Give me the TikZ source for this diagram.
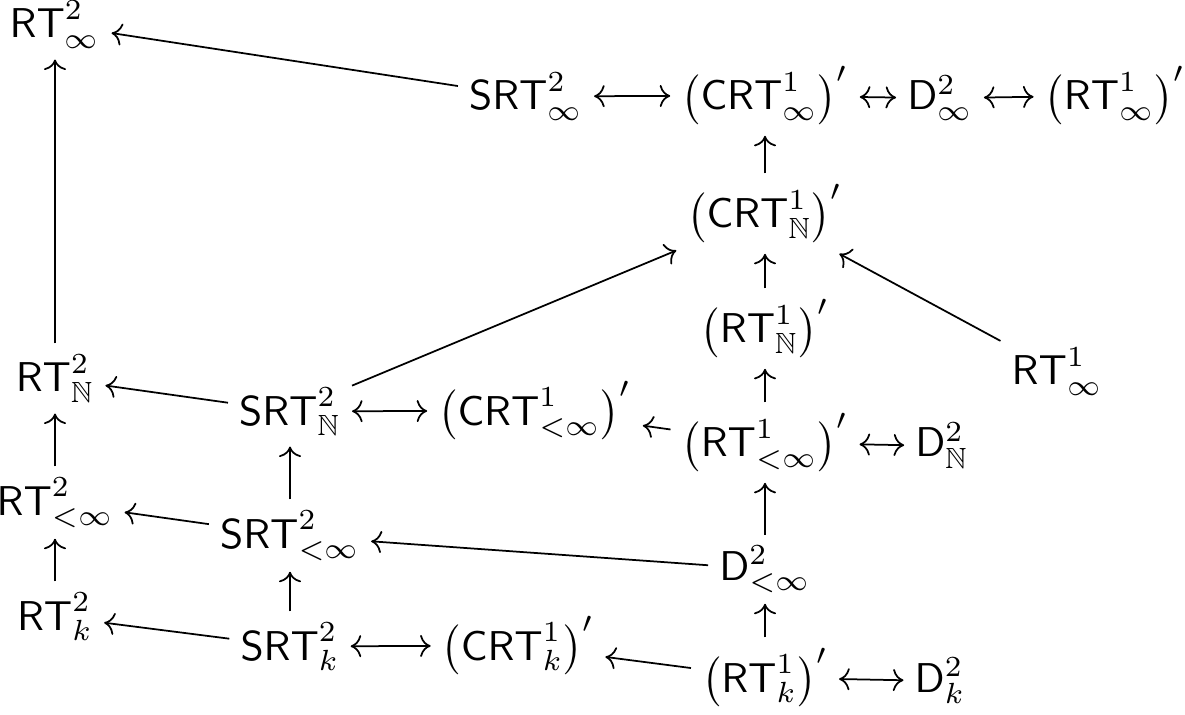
\documentclass[tikz,border=0pt]{standalone}
\usepackage{amsmath,amssymb}
\usetikzlibrary{arrows.meta}
\begin{document}
\begin{tikzpicture}[x=0.24pt,y=-0.24pt,
  obj/.style={anchor=base, inner sep=2.5pt},
  arr/.style={-{Computer Modern Rightarrow}, line width=0.42pt},
  biarr/.style={{Computer Modern Rightarrow}-{Computer Modern Rightarrow}, line width=0.42pt}]
\useasboundingbox (0,0) rectangle (1185,715);
% left column
\node[obj] (rt2inf) at (55,38) {$\mathsf{RT}^2_\infty$};
\node[obj] (rt2N) at (55,392) {$\mathsf{RT}^2_{\mathbb{N}}$};
\node[obj] (rt2lt) at (55,515) {$\mathsf{RT}^2_{<\infty}$};
\node[obj] (rt2k) at (55,630) {$\mathsf{RT}^2_k$};
% SRT column
\node[obj] (srt2N) at (290,425) {$\mathsf{SRT}^2_{\mathbb{N}}$};
\node[obj] (srt2lt) at (290,548) {$\mathsf{SRT}^2_{<\infty}$};
\node[obj] (srt2k) at (290,660) {$\mathsf{SRT}^2_k$};
% top row
\node[obj] (srt2inf) at (526,110) {$\mathsf{SRT}^2_\infty$};
\node[obj] (crt1inf) at (765,110) {$\left(\mathsf{CRT}^1_\infty\right)'$};
\node[obj] (d2inf) at (940,110) {$\mathsf{D}^2_\infty$};
\node[obj] (rt1infp) at (1115,110) {$\left(\mathsf{RT}^1_\infty\right)'$};
% middle column
\node[obj] (crt1N) at (765,228) {$\left(\mathsf{CRT}^1_{\mathbb{N}}\right)'$};
\node[obj] (rt1N) at (765,343) {$\left(\mathsf{RT}^1_{\mathbb{N}}\right)'$};
\node[obj] (rt1lt) at (765,457) {$\left(\mathsf{RT}^1_{<\infty}\right)'$};
\node[obj] (d2lt) at (765,580) {$\mathsf{D}^2_{<\infty}$};
\node[obj] (rt1k) at (765,692) {$\left(\mathsf{RT}^1_k\right)'$};
% others
\node[obj] (rt1inf) at (1057,385) {$\mathsf{RT}^1_\infty$};
\node[obj] (crt1lt) at (535,425) {$\left(\mathsf{CRT}^1_{<\infty}\right)'$};
\node[obj] (d2N) at (942,457) {$\mathsf{D}^2_{\mathbb{N}}$};
\node[obj] (crt1k) at (518,660) {$\left(\mathsf{CRT}^1_k\right)'$};
\node[obj] (d2k) at (940,692) {$\mathsf{D}^2_k$};
% connectors
\draw[arr] (srt2inf) -- (rt2inf);
\draw[arr] (rt2N) -- (rt2inf);
\draw[biarr] (srt2inf) -- (crt1inf);
\draw[biarr] (crt1inf) -- (d2inf);
\draw[biarr] (d2inf) -- (rt1infp);
\draw[arr] (crt1N) -- (crt1inf);
\draw[arr] (rt1N) -- (crt1N);
\draw[arr] (rt1inf) -- (crt1N);
\draw[arr] (srt2N) -- (crt1N);
\draw[arr] (srt2N) -- (rt2N);
\draw[biarr] (srt2N) -- (crt1lt);
\draw[arr] (rt1lt) -- (crt1lt);
\draw[biarr] (rt1lt) -- (d2N);
\draw[arr] (rt1lt) -- (rt1N);
\draw[arr] (rt2lt) -- (rt2N);
\draw[arr] (srt2lt) -- (rt2lt);
\draw[arr] (srt2lt) -- (srt2N);
\draw[arr] (d2lt) -- (srt2lt);
\draw[arr] (d2lt) -- (rt1lt);
\draw[arr] (rt2k) -- (rt2lt);
\draw[arr] (srt2k) -- (rt2k);
\draw[arr] (srt2k) -- (srt2lt);
\draw[biarr] (srt2k) -- (crt1k);
\draw[arr] (rt1k) -- (crt1k);
\draw[arr] (rt1k) -- (d2lt);
\draw[biarr] (rt1k) -- (d2k);
\end{tikzpicture}
\end{document}
